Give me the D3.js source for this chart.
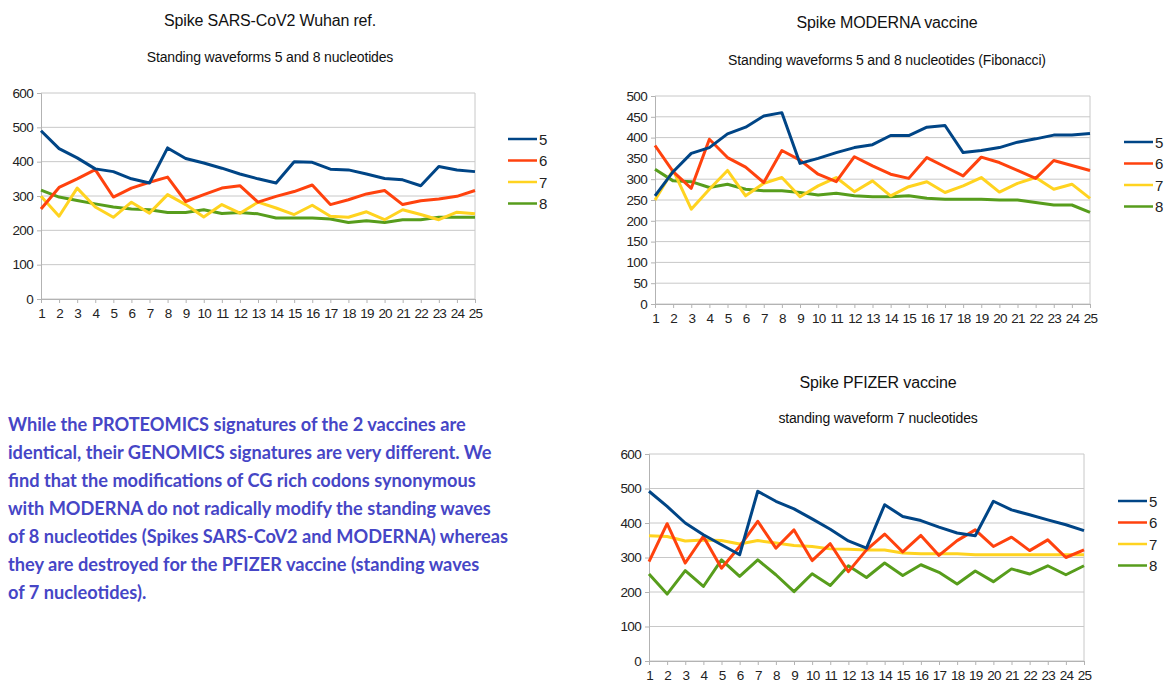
<!DOCTYPE html>
<html>
<head>
<meta charset="utf-8">
<script src="https://cdn.jsdelivr.net/npm/d3@7"></script>
<style>
  body { margin: 0; background: #fff; }
  svg { display: block; }
</style>
</head>
<body>
<div id="container"></div>
<script>
const seriesNames = ['5', '6', '7', '8'];
const seriesColors = ['#004586', '#ff420e', '#ffd320', '#579d1c'];
const positions = d3.range(1, 26);

// Spike SARS-CoV2 Wuhan ref.
const wuhan5 = [490, 438, 411, 379, 371, 350, 338, 440, 409, 396, 381, 364, 350, 338, 400, 398, 378, 376, 364, 351, 347, 330, 386, 376, 371];
const wuhan6 = [262, 325, 350, 377, 297, 323, 340, 355, 284, 304, 323, 330, 282, 299, 313, 332, 275, 289, 306, 316, 275, 286, 291, 299, 316];
const wuhan7 = [299, 241, 323, 268, 238, 282, 250, 304, 275, 239, 275, 250, 282, 265, 246, 273, 241, 238, 254, 231, 260, 246, 231, 253, 248];
const wuhan8 = [317, 297, 287, 277, 268, 262, 260, 252, 252, 260, 249, 252, 248, 236, 236, 236, 233, 223, 228, 223, 231, 231, 238, 238, 238];

// Spike MODERNA vaccine
const moderna5 = [260, 318, 362, 376, 409, 425, 452, 460, 338, 350, 364, 376, 383, 405, 405, 425, 429, 364, 369, 376, 389, 397, 406, 406, 410];
const moderna6 = [381, 318, 278, 396, 352, 329, 292, 369, 346, 312, 294, 354, 332, 312, 302, 352, 330, 308, 353, 340, 321, 302, 345, 333, 321];
const moderna7 = [250, 322, 228, 276, 321, 260, 290, 304, 258, 284, 304, 270, 296, 260, 282, 294, 268, 284, 304, 269, 290, 304, 276, 288, 254];
const moderna8 = [324, 296, 294, 280, 288, 276, 272, 272, 268, 262, 266, 260, 258, 258, 260, 254, 252, 252, 252, 250, 250, 244, 238, 238, 220];

// Spike PFIZER vaccine
const pfizer5 = [492, 448, 400, 366, 337, 308, 492, 463, 441, 412, 382, 348, 327, 453, 419, 407, 388, 371, 363, 463, 438, 424, 409, 395, 378];
const pfizer6 = [288, 398, 284, 361, 269, 332, 405, 327, 380, 291, 340, 259, 322, 368, 316, 364, 306, 349, 380, 332, 359, 320, 351, 300, 322];
const pfizer7 = [363, 361, 348, 351, 349, 339, 349, 342, 335, 332, 325, 324, 322, 322, 313, 311, 311, 311, 308, 308, 308, 308, 308, 308, 308];
const pfizer8 = [252, 194, 262, 216, 293, 245, 293, 250, 201, 253, 219, 276, 242, 284, 248, 279, 257, 223, 261, 230, 267, 252, 276, 250, 276];

const paragraph = [
  'While the PROTEOMICS signatures of the 2 vaccines are',
  'identical, their GENOMICS signatures are very different. We',
  'find that the modifications of CG rich codons synonymous',
  'with MODERNA do not radically modify the standing waves',
  'of 8 nucleotides (Spikes SARS-CoV2 and MODERNA) whereas',
  'they are destroyed for the PFIZER vaccine (standing waves',
  'of 7 nucleotides).'
];

const width = 1166, height = 686;
const svg = d3.select('#container').append('svg')
  .attr('width', width)
  .attr('height', height)
  .style('font-family', 'Liberation Sans, Arial, sans-serif');

const charts = [
  {
    title: 'Spike SARS-CoV2 Wuhan ref.',
    subtitle: 'Standing waveforms 5 and 8 nucleotides',
    titleX: 270, titleY: 26, subY: 62,
    x0: 41, x1: 475, yTop: 93, yBottom: 299,
    yMax: 600, yStep: 100,
    legendX: 508, legendY: 139,
    series: [wuhan5, wuhan6, wuhan7, wuhan8]
  },
  {
    title: 'Spike MODERNA vaccine',
    subtitle: 'Standing waveforms 5 and 8 nucleotides (Fibonacci)',
    titleX: 887, titleY: 28, subY: 65,
    x0: 655, x1: 1090, yTop: 96, yBottom: 304,
    yMax: 500, yStep: 50,
    legendX: 1124, legendY: 142,
    series: [moderna5, moderna6, moderna7, moderna8]
  },
  {
    title: 'Spike PFIZER vaccine',
    subtitle: 'standing waveform 7 nucleotides',
    titleX: 878, titleY: 388, subY: 423,
    x0: 649, x1: 1084, yTop: 454, yBottom: 661,
    yMax: 600, yStep: 100,
    legendX: 1118, legendY: 501,
    series: [pfizer5, pfizer6, pfizer7, pfizer8]
  }
];

charts.forEach(drawChart);

function drawChart(c) {
  let g = svg.append('g');

  let x = d3.scaleLinear().domain([1, 25]).range([c.x0, c.x1]);
  let y = d3.scaleLinear().domain([0, c.yMax]).range([c.yBottom, c.yTop]);
  let yTicks = d3.range(0, c.yMax + 1, c.yStep);

  g.append('text')
    .text(c.title)
    .attr('x', c.titleX).attr('y', c.titleY)
    .attr('text-anchor', 'middle')
    .attr('font-size', 16)
    .attr('letter-spacing', -0.15)
    .attr('fill', '#111');

  g.append('text')
    .text(c.subtitle)
    .attr('x', c.titleX).attr('y', c.subY)
    .attr('text-anchor', 'middle')
    .attr('font-size', 14)
    .attr('letter-spacing', -0.15)
    .attr('fill', '#111');

  // grid
  g.append('g').selectAll('line').data(yTicks)
    .enter().append('line')
    .attr('x1', c.x0).attr('x2', c.x1)
    .attr('y1', d => y(d)).attr('y2', d => y(d))
    .attr('stroke', '#c8c8c8')
    .attr('stroke-width', 1);

  // right border
  g.append('line')
    .attr('x1', c.x1).attr('x2', c.x1)
    .attr('y1', c.yTop).attr('y2', c.yBottom)
    .attr('stroke', '#c8c8c8');

  let yAxis = g.append('g')
    .attr('transform', `translate(${c.x0},0)`)
    .call(d3.axisLeft(y).tickValues(yTicks).tickSize(4).tickPadding(4));
  yAxis.select('.domain').attr('stroke', '#b3b3b3');
  yAxis.selectAll('.tick line').attr('stroke', '#b3b3b3');
  yAxis.selectAll('text').attr('font-size', 13.5).attr('letter-spacing', -0.7)
    .attr('fill', '#222').style('font-family', 'Liberation Sans, Arial, sans-serif');

  let xAxis = g.append('g')
    .attr('transform', `translate(0,${c.yBottom})`)
    .call(d3.axisBottom(x).tickValues(positions).tickFormat(d3.format('d')).tickSize(4).tickPadding(5));
  xAxis.select('.domain').attr('stroke', '#b3b3b3');
  xAxis.selectAll('.tick line').attr('stroke', '#b3b3b3');
  xAxis.selectAll('text').attr('font-size', 13.5).attr('letter-spacing', -0.8)
    .attr('fill', '#222').style('font-family', 'Liberation Sans, Arial, sans-serif');

  let line = d3.line()
    .x((d, i) => x(positions[i]))
    .y(d => y(d));

  // draw 8 first so blue sits on top like the original
  [3, 2, 1, 0].forEach(k => {
    g.append('path')
      .datum(c.series[k])
      .attr('d', line)
      .attr('fill', 'none')
      .attr('stroke', seriesColors[k])
      .attr('stroke-width', 3)
      .attr('stroke-linejoin', 'round');
  });

  // legend
  let legend = g.selectAll('.legend').data(seriesNames)
    .enter().append('g')
    .attr('transform', (d, i) => `translate(${c.legendX},${c.legendY + i * 21.5})`);
  legend.append('line')
    .attr('x1', 0).attr('x2', 29)
    .attr('stroke', (d, i) => seriesColors[i])
    .attr('stroke-width', 2.5);
  legend.append('text')
    .text(d => d)
    .attr('x', 31).attr('y', 5.5)
    .attr('font-size', 15)
    .attr('fill', '#222');
}

svg.append('g').selectAll('text').data(paragraph)
  .enter().append('text')
  .text(d => d)
  .attr('x', 8)
  .attr('y', (d, i) => 431 + i * 28)
  .attr('font-family', 'Lato, sans-serif')
  .attr('font-weight', 'bold')
  .attr('font-size', 18.2)
  .attr('fill', '#4646c6');
</script>
</body>
</html>
